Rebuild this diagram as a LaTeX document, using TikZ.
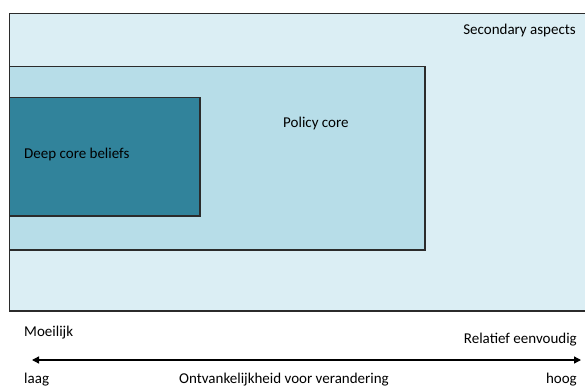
\documentclass[tikz,border=0pt]{standalone}
\usepackage{fontspec}
\setmainfont{Carlito}
\usetikzlibrary{arrows.meta}
\definecolor{outerfill}{HTML}{DBEEF4}
\definecolor{policyfill}{HTML}{B7DDE8}
\definecolor{deepfill}{HTML}{31839B}
\definecolor{edge}{HTML}{2B2B2B}
\tikzset{
  box/.style={draw=edge, line width=1.6pt},
  lbl/.style={font=\fontsize{15}{17}\selectfont, text=black, inner sep=0pt},
}
\begin{document}
\begin{tikzpicture}[x=1pt,y=-1pt]
\useasboundingbox (0,0) rectangle (585,387);
\clip (0,0) rectangle (585,387);
\fill[white] (0,0) rectangle (585,387);
\draw[box, fill=outerfill] (9.5,13.5) rectangle (600,311);
\draw[box, fill=policyfill] (9.5,66.5) rectangle (425,250);
\draw[box, fill=deepfill] (9.5,97.5) rectangle (200,216);
\node[lbl, anchor=east] (sec) at (576,31) {Secondary aspects};
\node[lbl, anchor=west] (pol) at (283,124) {Policy core};
\node[lbl, anchor=west] (deep) at (24,155) {Deep core beliefs};
\coordinate (al) at (32,360);
\coordinate (ar) at (581,360);
\draw[line width=1.3pt, {Triangle[length=7pt,width=7pt]}-{Triangle[length=7pt,width=7pt]}] (al) -- (ar);
\node[lbl, anchor=west] (moe) at (24,333) {Moeilijk};
\node[lbl, anchor=east] (rel) at (577,340) {Relatief eenvoudig};
\node[lbl, anchor=west] (laag) at (24,380) {laag};
\node[lbl] (ont) at (284,380) {Ontvankelijkheid voor verandering};
\node[lbl, anchor=east] (hoog) at (577,380) {hoog};
\end{tikzpicture}
\end{document}
